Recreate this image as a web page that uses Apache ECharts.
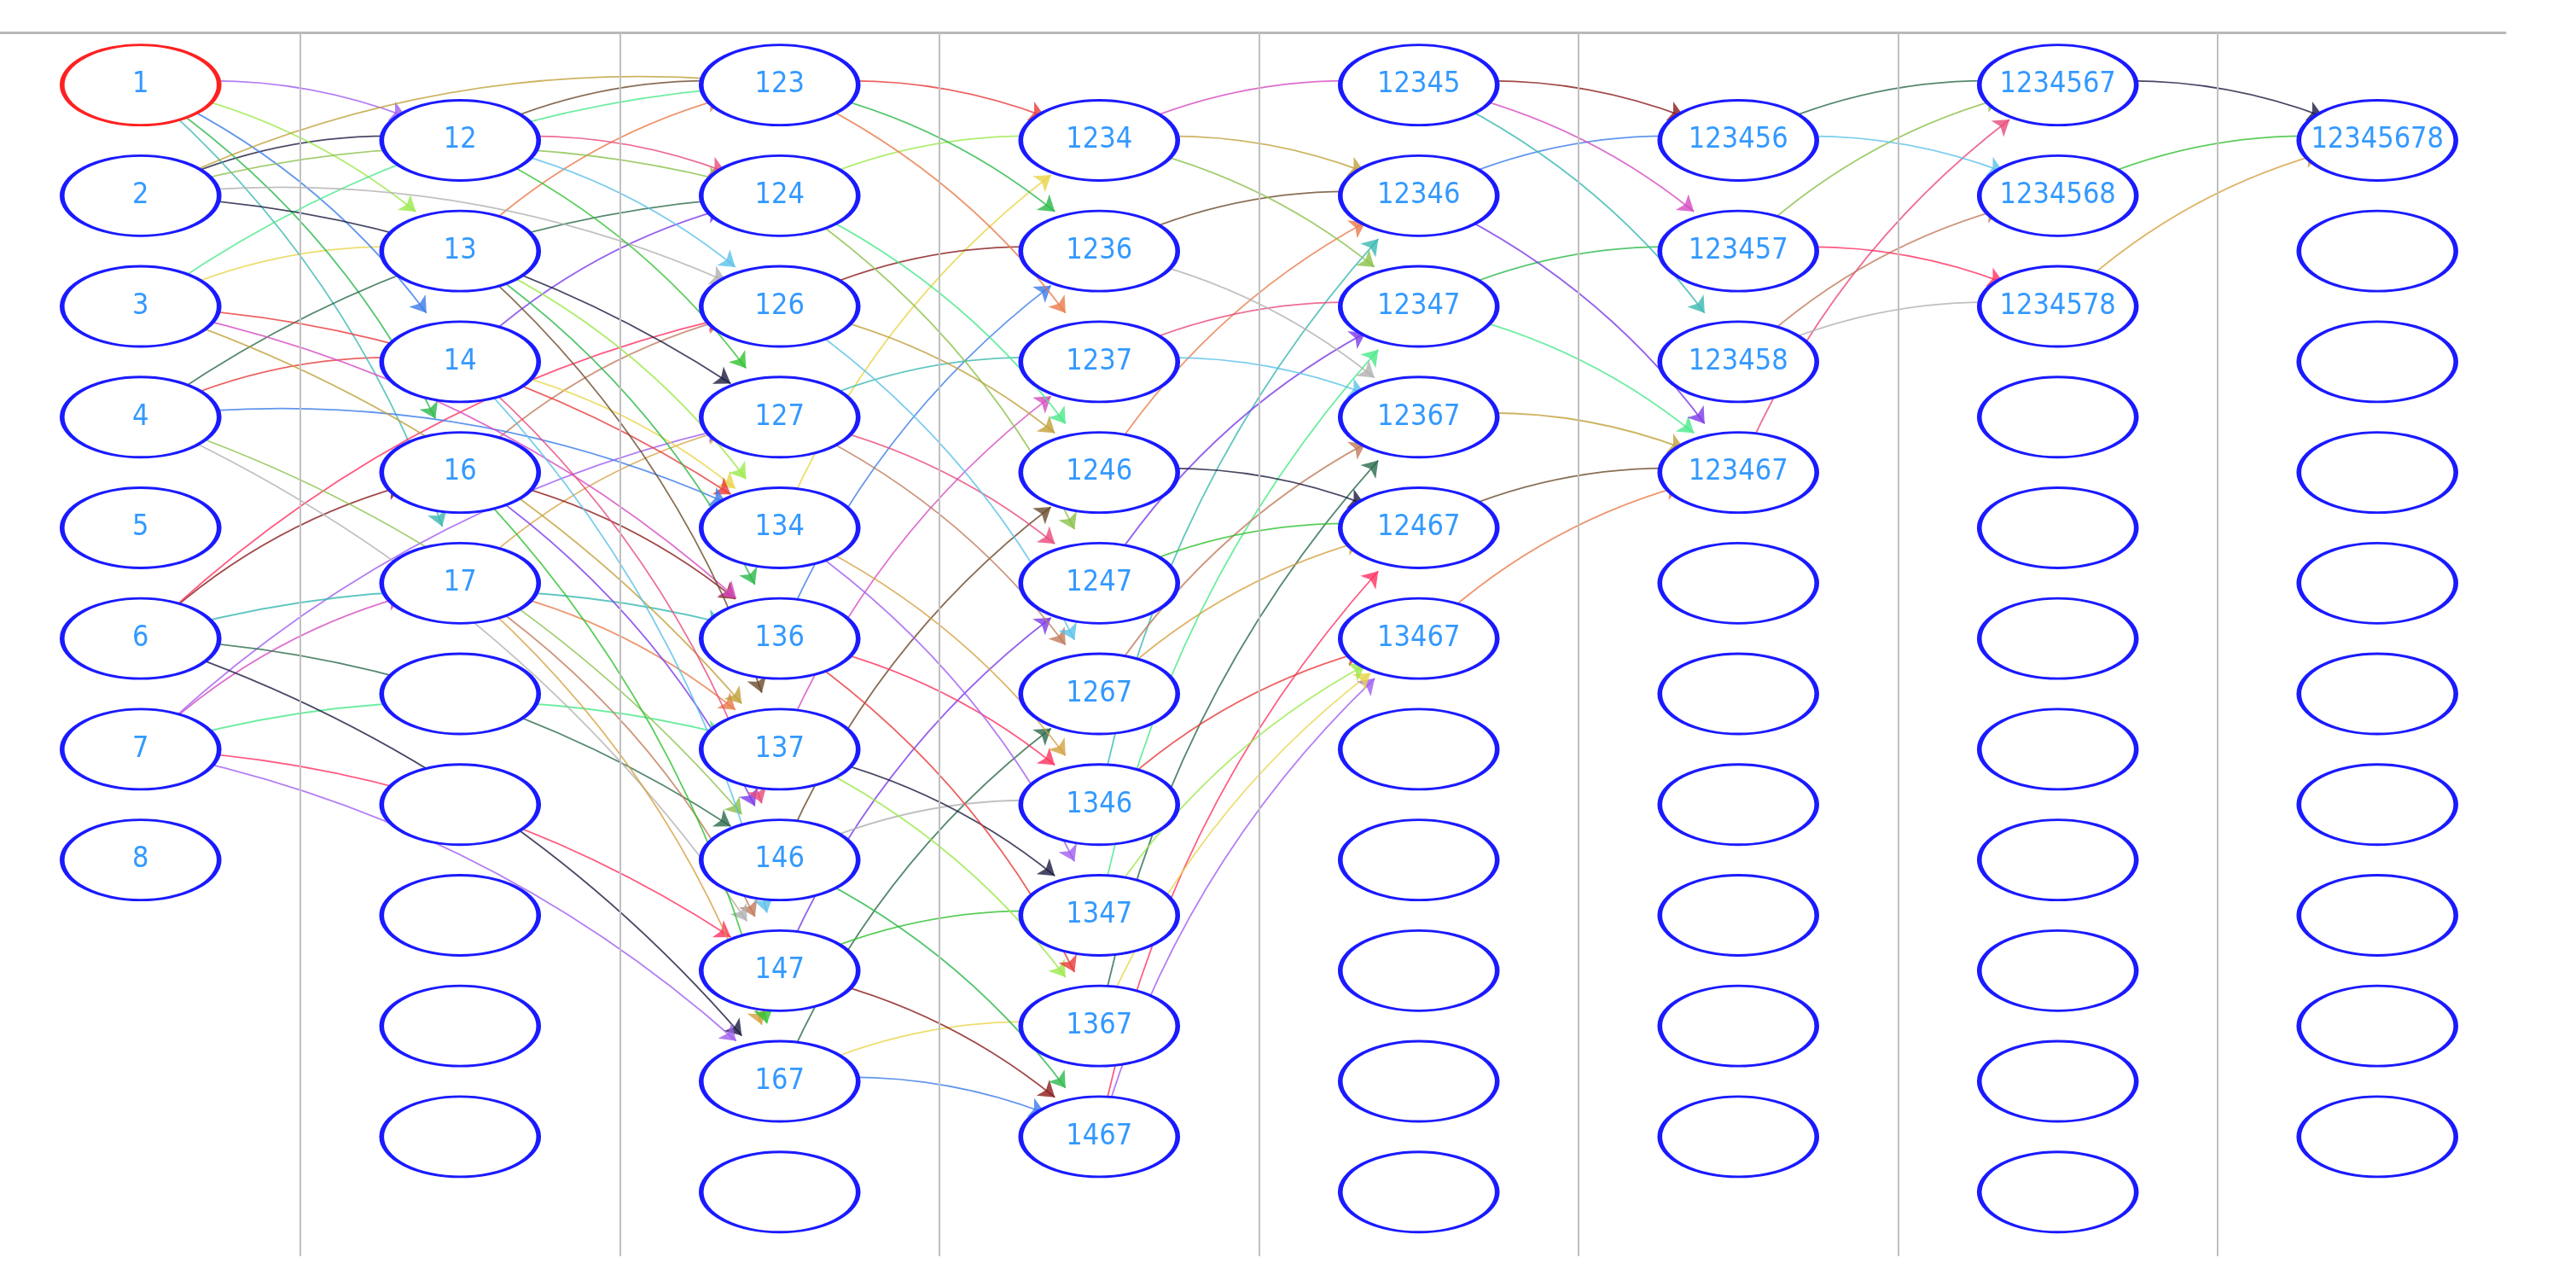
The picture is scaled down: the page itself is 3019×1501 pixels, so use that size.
<!DOCTYPE html>
<html>
<head>
<meta charset="utf-8">
<script src="https://cdn.jsdelivr.net/npm/echarts@6/dist/echarts.min.js"></script>
<style>html,body{margin:0;padding:0;background:#fff}#main{width:3019px;height:1501px}</style>
</head>
<body>
<div id="main"></div>
<script>
// node labels per column, '' = empty ellipse
const col0 = ['1', '2', '3', '4', '5', '6', '7', '8'];
const col1 = ['12', '13', '14', '16', '17', '', '', '', '', ''];
const col2 = ['123', '124', '126', '127', '134', '136', '137', '146', '147', '167', ''];
const col3 = ['1234', '1236', '1237', '1246', '1247', '1267', '1346', '1347', '1367', '1467'];
const col4 = ['12345', '12346', '12347', '12367', '12467', '13467', '', '', '', '', ''];
const col5 = ['123456', '123457', '123458', '123467', '', '', '', '', '', ''];
const col6 = ['1234567', '1234568', '1234578', '', '', '', '', '', '', '', ''];
const col7 = ['12345678', '', '', '', '', '', '', '', '', ''];
const columns = [col0, col1, col2, col3, col4, col5, col6, col7];
// first half-row used by each column
const startRow = [0, 1, 0, 1, 0, 1, 0, 1];

const palette = ['#1a1a40', '#a05cf0', '#e8d44a', '#9be84a', '#e83a3a', '#3a7ae8', '#8a1a1a', '#2ab84a',
    '#d64ac0', '#3ab8b0', '#e87a4a', '#6a4a2a', '#c0a03a', '#4ae88a', '#7a3ae8', '#e84a7a',
    '#8ac04a', '#2a6a4a', '#c07a5a', '#5ac0e8', '#b0b0b0', '#ff3060', '#d4a040', '#30c030'];

const nodes = [];
const labelSet = {};
columns.forEach((col, c) => {
    col.forEach((lab, i) => {
        const id = lab || ('e' + c + '_' + i);
        if (lab) labelSet[lab] = true;
        nodes.push({
            name: id,
            value: [c, startRow[c] + 2 * i],
            label: { formatter: lab },
            itemStyle: { borderColor: lab === '1' ? '#ff2020' : '#1a1aff' }
        });
    });
});

// links: subset with one element fewer, plus singletons to triples
const links = [];
Object.keys(labelSet).forEach(t => {
    if (t.length < 2) return;
    for (let k = 0; k < t.length; k++) {
        const s = t.slice(0, k) + t.slice(k + 1);
        if (labelSet[s]) links.push({ source: s, target: t });
    }
    if (t.length === 3) {
        for (const d of t.slice(1)) links.push({ source: d, target: t });
    }
});
links.forEach((l, i) => {
    l.lineStyle = { color: palette[i % palette.length] };
});

const chart = echarts.init(document.getElementById('main'));
chart.setOption({
    backgroundColor: '#fff',
    animation: false,
    grid: { left: 0, right: 83, top: 38, bottom: 29 },
    xAxis: {
        type: 'value', min: -0.44, max: 7.4, position: 'top',
        axisLine: { show: true, onZero: false, lineStyle: { color: '#b8b8b8', width: 3 } },
        axisTick: { show: false }, axisLabel: { show: false }, splitLine: { show: false }
    },
    yAxis: {
        type: 'value', inverse: true, min: -0.95, max: 21.16, show: false
    },
    series: [{
        type: 'graph',
        coordinateSystem: 'cartesian2d',
        symbol: 'circle',
        symbolSize: [184, 94],
        edgeSymbol: ['none', 'arrow'],
        edgeSymbolSize: [0, 18],
        itemStyle: { color: '#fff', borderWidth: 4 },
        label: {
            show: true, position: 'inside', color: '#3399ff', fontSize: 34,
            fontFamily: 'DejaVu Sans Condensed, sans-serif'
        },
        lineStyle: { width: 1.8, opacity: 0.8, curveness: 0.15 },
        data: nodes,
        links: links,
        markLine: {
            silent: true, symbol: 'none', label: { show: false },
            lineStyle: { color: '#c0c0c0', type: 'solid', width: 2 },
            data: [0.5, 1.5, 2.5, 3.5, 4.5, 5.5, 6.5].map(v => ({ xAxis: v }))
        },
        z: 3
    }]
});
</script>
</body>
</html>
